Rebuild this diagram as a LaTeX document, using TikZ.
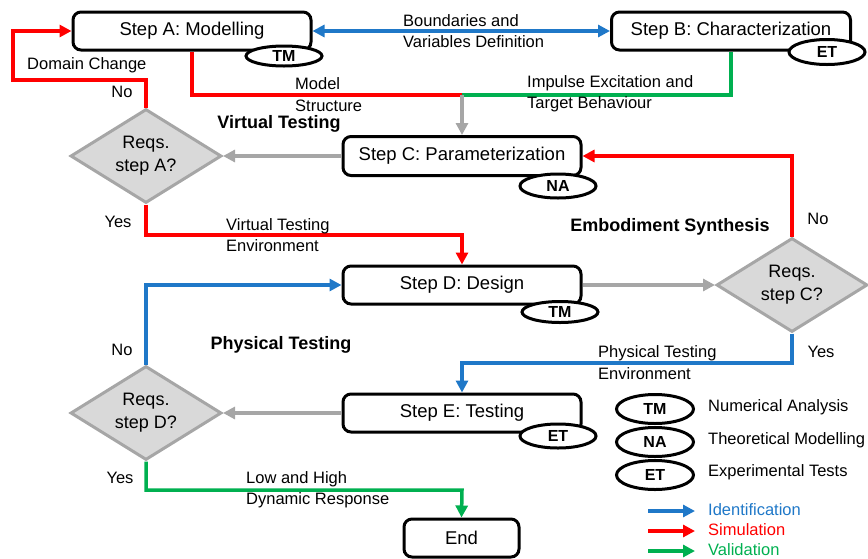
\documentclass[tikz,border=0pt]{standalone}
\usepackage{fontspec}
\setmainfont{Liberation Sans}
\usetikzlibrary{shapes.geometric,arrows.meta}
\definecolor{cblue}{HTML}{1F78C8}
\definecolor{cred}{HTML}{FF0000}
\definecolor{cgreen}{HTML}{00B050}
\definecolor{cgray}{HTML}{A6A6A6}
\definecolor{dfill}{HTML}{D9D9D9}
\begin{document}
\begin{tikzpicture}[x=1pt,y=-1pt,
 stepbox/.style={draw,line width=3pt,rounded corners=8pt,fill=white,minimum width=238pt,minimum height=38pt,inner sep=0pt,font=\fontsize{18.5}{21}\selectfont},
 decision/.style={diamond,draw=cgray,fill=dfill,line width=3pt,minimum width=151pt,minimum height=94pt,aspect=1.6,inner sep=0pt,align=center,font=\fontsize{18}{23}\selectfont},
 tag/.style={ellipse,draw,line width=3pt,fill=white,minimum width=76pt,minimum height=22pt,inner sep=0pt,font=\bfseries\fontsize{16}{18}\selectfont},
 lbl/.style={font=\fontsize{16.5}{21.5}\selectfont,align=left,anchor=west,inner sep=0pt},
 hd/.style={font=\bfseries\fontsize{18}{21}\selectfont,inner sep=0pt},
 conn/.style={line width=3.5pt,-{Triangle[length=12pt,width=12pt]}},
 dconn/.style={line width=3.5pt,{Triangle[length=12pt,width=12pt]}-{Triangle[length=12pt,width=12pt]}},
 plain/.style={line width=3.5pt},
]
\useasboundingbox (0,0) rectangle (868,558);

% junction coordinates
\coordinate (cA) at (13,80);
\coordinate (j1) at (462,95);
\coordinate (j2) at (462,235);
\coordinate (j3) at (462,363);
\coordinate (j4) at (462,490);

% boxes
\node[stepbox] (A) at (192,31) {Step A: Modelling};
\node[stepbox,minimum width=239pt] (B) at (731,31) {Step B: Characterization};
\node[stepbox,minimum height=39pt] (C) at (462,156) {Step C: Parameterization};
\node[stepbox] (D) at (462,285) {Step D: Design};
\node[stepbox] (E) at (462,413) {Step E: Testing};
\node[stepbox,minimum width=115pt] (End) at (461.5,538) {End};

% decisions
\node[decision] (dA) at (146,156) {Reqs.\\step A?};
\node[decision] (dC) at (792,285) {Reqs.\\step C?};
\node[decision] (dD) at (146,413) {Reqs.\\step D?};

% connectors
\draw[dconn,cblue] (B.west) -- (A.east);
\draw[plain,cred] (A.south) |- (j1);
\draw[plain,cgreen] (B.south) |- (j1);
\draw[conn,cgray] (j1) -- (C.north);
\draw[conn,cred] (dA.north) |- (cA) |- (A.west);
\draw[conn,cgray] (C.west) -- (dA.east);
\draw[conn,cred] (dA.south) |- (j2) -- (D.north);
\draw[conn,cred] (dC.north) |- (C.east);
\draw[conn,cgray] (D.east) -- (dC.west);
\draw[conn,cblue] (dC.south) |- (j3) -- (E.north);
\draw[conn,cgray] (E.west) -- (dD.east);
\draw[conn,cblue] (dD.north) |- (D.west);
\draw[conn,cgreen] (dD.south) |- (j4) -- (End.north);

% tags
\node[tag,minimum height=20pt] (tA) at (284,56) {TM};
\node[tag,minimum height=25pt] (tB) at (827,52) {ET};
\node[tag,minimum height=24pt] (tC) at (558,186) {NA};
\node[tag,minimum height=21pt] (tD) at (560,312) {TM};
\node[tag,minimum height=24pt] (tE) at (558,436) {ET};

% labels
\node[lbl] (l1) at (403,31) {Boundaries and\\Variables Definition};
\node[lbl] (l2) at (295,94.5) {Model\\Structure};
\node[lbl] (l3) at (527,93.5) {Impulse Excitation and\\Target Behaviour};
\node[lbl] (l4) at (226,235) {Virtual Testing\\Environment};
\node[lbl] (l5) at (598,362.5) {Physical Testing\\Environment};
\node[lbl] (l6) at (246,489.5) {Low and High\\Dynamic Response};
\node[lbl] (l7) at (27,65) {Domain Change};
\node[lbl,anchor=center] (n1) at (122,92) {No};
\node[lbl,anchor=center] (y1) at (118,222) {Yes};
\node[lbl,anchor=center] (n2) at (818,219) {No};
\node[lbl,anchor=center] (y2) at (821,352) {Yes};
\node[lbl,anchor=center] (n3) at (122,350) {No};
\node[lbl,anchor=center] (y3) at (120,478) {Yes};
\node[hd] (h1) at (279,124) {Virtual Testing};
\node[hd] (h2) at (670,227) {Embodiment Synthesis};
\node[hd] (h3) at (281,345) {Physical Testing};

% legend
\node[tag,minimum height=29pt,minimum width=77pt] (gTM) at (655,409) {TM};
\node[tag,minimum height=29pt,minimum width=77pt] (gNA) at (655,442) {NA};
\node[tag,minimum height=29pt,minimum width=77pt] (gET) at (655,475) {ET};
\node[lbl] (gt1) at (708,407) {Numerical Analysis};
\node[lbl] (gt2) at (708,440) {Theoretical Modelling};
\node[lbl] (gt3) at (708,472) {Experimental Tests};
\coordinate (s1) at (648,511); \coordinate (e1) at (695,511);
\coordinate (s2) at (648,531); \coordinate (e2) at (695,531);
\coordinate (s3) at (648,551); \coordinate (e3) at (695,551);
\draw[conn,cblue] (s1) -- (e1);
\draw[conn,cred] (s2) -- (e2);
\draw[conn,cgreen] (s3) -- (e3);
\node[lbl,text=cblue] (gi) at (708,510) {Identification};
\node[lbl,text=cred] (gs) at (708,530) {Simulation};
\node[lbl,text=cgreen] (gv) at (708,550) {Validation};
\end{tikzpicture}
\end{document}
